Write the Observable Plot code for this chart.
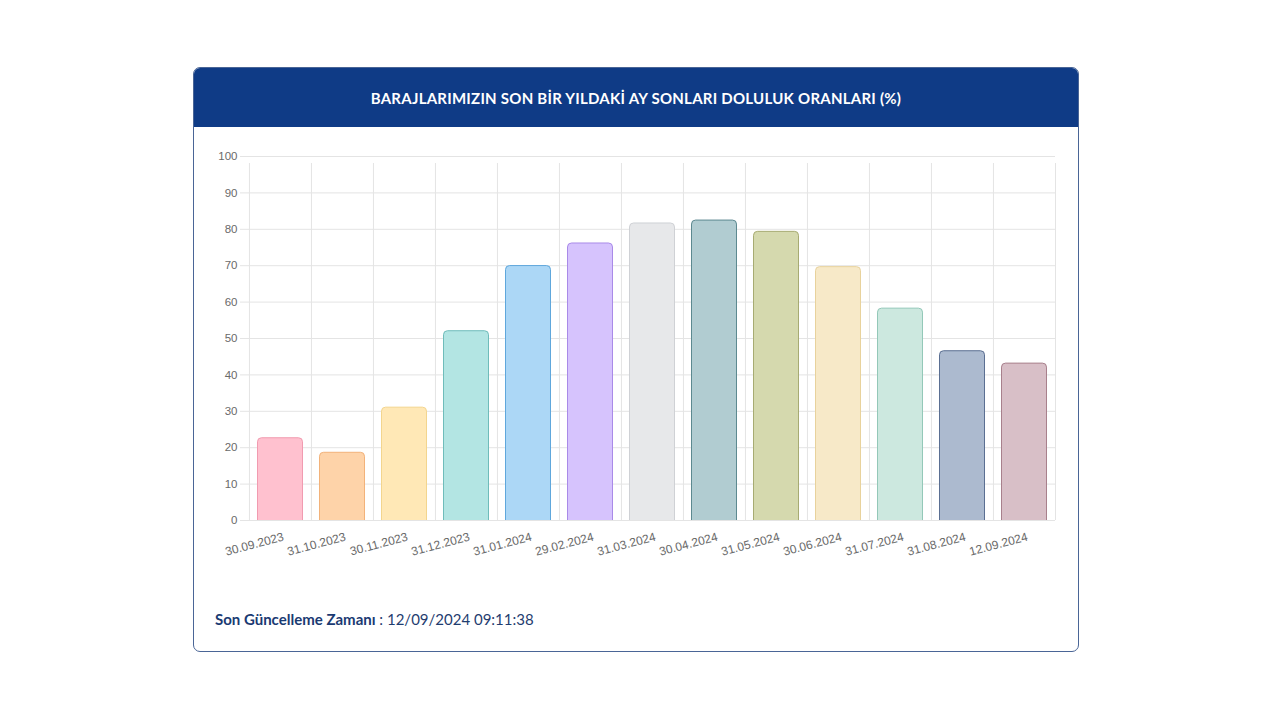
<!DOCTYPE html>
<html>
<head>
<meta charset="utf-8">
<script src="https://cdn.jsdelivr.net/npm/d3@7"></script>
<script src="https://cdn.jsdelivr.net/npm/@observablehq/plot@0.6"></script>
<style>
  html, body { margin: 0; padding: 0; background: #ffffff; width: 1280px; height: 720px; overflow: hidden; }
  #card { position: absolute; left: 193px; top: 67px; width: 884px; height: 583px;
          border: 1px solid #4a6596; border-radius: 7px; background: #ffffff; overflow: hidden; }
  #header { position: absolute; left: 0; top: 0; width: 100%; height: 59px; background: #0f3b86;
            color: #ffffff; font-family: Lato, "Open Sans", sans-serif; font-weight: 700; font-size: 15px;
            display: flex; align-items: center; justify-content: center; letter-spacing: 0.25px; }
  #chart { position: absolute; left: 0; top: 59px; }
  #footer { position: absolute; left: 21px; top: 542px; font-family: Lato, "Open Sans", sans-serif;
            font-size: 15px; color: #1f3d70; }
  #footer b { font-weight: 700; color: #1a3a72; }
</style>
</head>
<body>
<div id="card">
  <div id="header">BARAJLARIMIZIN SON BİR YILDAKİ AY SONLARI DOLULUK ORANLARI (%)</div>
  <div id="chart"></div>
  <div id="footer"><b>Son Güncelleme Zamanı</b> : 12/09/2024 09:11:38</div>
</div>
<script>
const dates = ["30.09.2023","31.10.2023","30.11.2023","31.12.2023","31.01.2024","29.02.2024","31.03.2024","30.04.2024","31.05.2024","30.06.2024","31.07.2024","31.08.2024","12.09.2024"];
const values = [22.6, 18.6, 31.0, 52.0, 69.9, 76.1, 81.6, 82.4, 79.3, 69.6, 58.2, 46.5, 43.1];
const yTicks = [0,10,20,30,40,50,60,70,80,90,100];
const fillColors = ["#ffc1cf","#fed3a9","#ffe8b6","#b3e5e3","#acd7f6","#d6c3fd","#e7e8ea","#b1ccd1","#d5d9ae","#f7e9c8","#cce8df","#acbacf","#d8bfc7"];
const strokeColors = ["#f19bb0","#f2b27a","#f3d58e","#6fbcba","#5fa7dc","#a98ae8","#cfd1d5","#5c8990","#a7ab72","#e8d29c","#93c8b8","#5b6f92","#a8808c"];

const data = dates.map((d, i) => ({date: d, value: values[i], fill: fillColors[i], stroke: strokeColors[i]}));

const W = 884, H = 460, ml = 54, mr = 23, mt = 29, mb = 67;
const bw = (W - ml - mr) / dates.length;
const grid = "#e4e4e4";

const chart = Plot.plot({
  width: W, height: H,
  marginLeft: ml, marginRight: mr, marginTop: mt, marginBottom: mb,
  style: {fontFamily: "'Liberation Sans', Arial, sans-serif", fontSize: "11.5px", background: "transparent"},
  x: {type: "band", domain: dates, padding: 0, label: null},
  y: {domain: [0, 100], label: null},
  marks: [
    Plot.gridY(yTicks, {stroke: grid, strokeOpacity: 1}),
    Plot.ruleX(dates, {x: d => d, dx: -bw / 2, y1: 0, y2: 100, insetBottom: -7, stroke: grid}),
    Plot.ruleX([dates[dates.length - 1]], {x: d => d, dx: bw / 2, y1: 0, y2: 100, insetBottom: -7, stroke: grid}),
    Plot.axisY({ticks: yTicks, tickSize: 8, tickPadding: 3, stroke: grid, fill: "#6a6a6a", label: null}),
    Plot.barY(data, {x: "date", y: "value", fill: d => d.fill, stroke: d => d.stroke, strokeWidth: 1,
                     insetLeft: 8.5, insetRight: 8.5, insetBottom: -6, rx: 4, clip: "frame"}),
    Plot.axisX({tickSize: 0, tickPadding: 16, tickRotate: -15, dx: 3, fill: "#6a6a6a", fontSize: 12, label: null})
  ]
});
document.getElementById("chart").appendChild(chart);
</script>
</body>
</html>
